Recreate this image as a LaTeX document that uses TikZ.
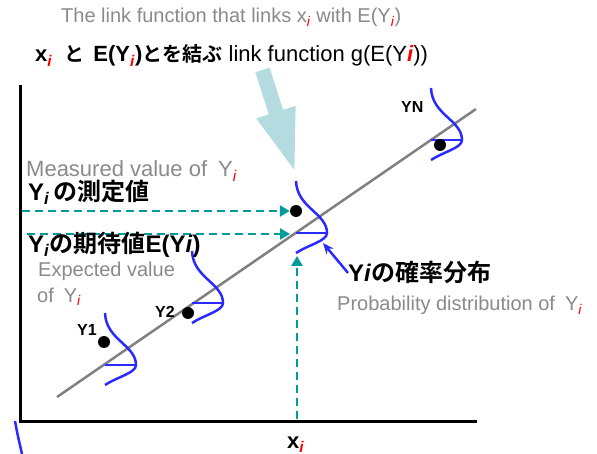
\documentclass[tikz,border=0pt]{standalone}
\usepackage{fontspec}
\setmainfont{Liberation Sans}
\newfontfamily\jp{Noto Sans CJK JP}[BoldFont={Noto Sans CJK JP Bold}]
\usetikzlibrary{arrows.meta}
\definecolor{guideteal}{HTML}{009B9B}
\definecolor{hintblue}{HTML}{B4DCE0}
\definecolor{densblue}{HTML}{2A2AFF}
\definecolor{notegray}{HTML}{8A8A8A}
\definecolor{fitgray}{HTML}{808080}
\newcommand{\redi}{\textsubscript{\textcolor{red}{\textit{i}}}}
\newcommand{\blki}{\textsubscript{\textit{i}}}
\begin{document}
\begin{tikzpicture}[x=1pt, y=-1pt,
    dot/.style={circle, fill=black, inner sep=0pt, minimum size=12pt},
    guide/.style={draw=guideteal, line width=2.5pt, dash pattern=on 8pt off 5pt,
      -{Triangle[length=10pt, width=11pt]}},
    note/.style={text=notegray, font=\fontsize{20}{24}\selectfont, inner sep=0pt, anchor=base west},
    lab/.style={font=\bfseries\fontsize{24}{28}\selectfont, inner sep=0pt, anchor=base west},
    ptlab/.style={font=\bfseries\fontsize{16}{19}\selectfont, inner sep=0pt, anchor=base west},
    dens/.pic={
      \draw[densblue, line width=2.5pt] (0,-52) .. controls (1,-25) and (31,-20) .. (31,0)
        .. controls (31,8) and (12,12) .. (0,20);
      \draw[densblue, line width=2.5pt] (0,0) -- (31,0);
    }]
  \useasboundingbox (0,0) rectangle (597,454);

  % axes and fitted line
  \coordinate (ytop) at (20,85);
  \coordinate (o) at (20,421);
  \coordinate (xend) at (477,421);
  \draw[line width=3pt] (ytop) -- (o) -- (xend);
  \coordinate (fitstart) at (57,397);
  \coordinate (fitend) at (476,109);
  \draw[fitgray, line width=2.5pt] (fitstart) -- (fitend);

  % distributions of Y
  \pic at (105,365) {dens};
  \pic at (192,303) {dens};
  \pic at (296,233) {dens};
  \pic at (431,140) {dens};
  \draw[densblue, line width=2.5pt] (15,421) .. controls (17,432) .. (22,454);

  % observations
  \node[dot] (d1) at (104,342) {};
  \node[dot] (d2) at (188,313) {};
  \node[dot] (di) at (296,211) {};
  \node[dot] (dn) at (440,145) {};
  \node[ptlab] (l1) at (77,335) {Y1};
  \node[ptlab] (l2) at (155,317) {Y2};
  \node[ptlab] (ln) at (401,113) {YN};

  % dashed guides
  \coordinate (ya) at (22,211);
  \coordinate (yb) at (27,234);
  \coordinate (mi) at (290,234);
  \coordinate (xa) at (297,419);
  \coordinate (mib) at (297,256);
  \draw[guide] (ya) -- (di);
  \draw[guide] (yb) -- (mi);
  \draw[guide] (xa) -- (mib);

  % link function hint
  \coordinate (hint) at (262.5,70);
  \coordinate (yitop) at (296,175);
  \draw[hintblue, line width=15pt, -{Triangle[length=66pt, width=36pt]}] (hint) -- (yitop);

  % texts
  \node[note] (t1) at (61,23) {The link function that links x\redi\ with E(Y\redi)};
  \node[inner sep=0pt, anchor=base west] (t2) at (35,62)
    {\fontsize{22}{28}\selectfont\bfseries x\redi\hspace{12pt}{\jp\fontsize{20}{28}\selectfont と}\hspace{9pt}E(Y\redi){\jp\fontsize{20}{28}\selectfont とを結ぶ}\mdseries\ link function g(E(Y\textcolor{red}{\bfseries\itshape i}))};
  \node[note, font=\fontsize{22}{26}\selectfont] (tmeas) at (26,177) {Measured value of\enspace Y\redi};
  \node[lab] (tmeasj) at (28,201) {Y\blki\,{\jp の測定値}};
  \node[lab] (texpj) at (28,253) {Y\blki{\jp の期待値}E(Y\textit{i})};
  \node[note] (texp) at (38,277) {Expected value};
  \node[note] (texp2) at (37,302) {of\enspace Y\redi};
  \node[lab] (tprob) at (348,282) {Y\textit{i}{\jp の確率分布}};
  \node[note] (tprob2) at (337,311) {Probability distribution of\enspace Y\redi};
  \node[font=\bfseries\fontsize{22}{26}\selectfont, inner sep=0pt, anchor=base west] (tx) at (287,448) {x\redi};

  \coordinate (parr) at (323,243);
  \draw[densblue, line width=2.5pt, -{Stealth[length=11pt, width=9pt]}] (tprob.west) -- (parr);
\end{tikzpicture}
\end{document}
